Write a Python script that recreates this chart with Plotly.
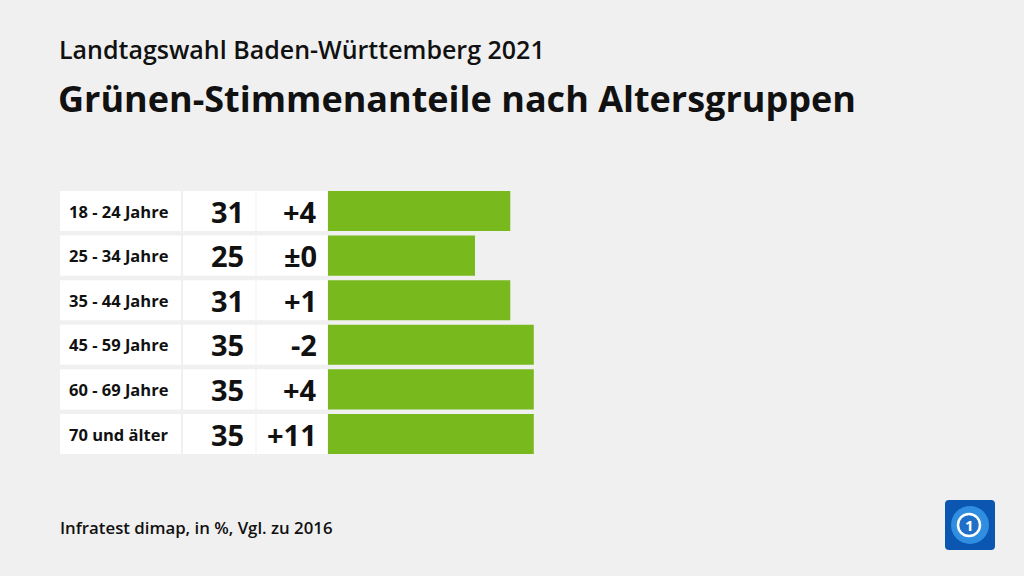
import plotly.graph_objects as go

# Data
groups = ["18 - 24 Jahre", "25 - 34 Jahre", "35 - 44 Jahre", "45 - 59 Jahre", "60 - 69 Jahre", "70 und älter"]
shares = [31, 25, 31, 35, 35, 35]
changes = ["+4", "±0", "+1", "-2", "+4", "+11"]

title = "Grünen-Stimmenanteile nach Altersgruppen"
subtitle = "Landtagswahl Baden-Württemberg 2021"
source = "Infratest dimap, in %, Vgl. zu 2016"

W, H = 1024, 576
BG = "#f0f0f0"
GREEN = "#78b91e"
FONT = "Open Sans"

def px(x):
    return x / W

def py(y):
    return 1 - y / H

bar_x0 = 328
scale = 5.88  # pixels per percentage point
y_top, y_bot = 188.7, 456.3

fig = go.Figure()
fig.add_trace(go.Bar(
    x=shares, y=groups, orientation="h",
    marker=dict(color=GREEN, line=dict(width=0)),
    width=0.9, hoverinfo="skip", showlegend=False,
))

shapes = []
annotations = []
for i, (g, v, c) in enumerate(zip(groups, shares, changes)):
    # white cells
    for x0, x1 in [(60, 181), (183, 255.5), (256.5, 327.5)]:
        shapes.append(dict(type="rect", xref="paper", yref="y",
                           x0=px(x0), x1=px(x1), y0=i - 0.45, y1=i + 0.45,
                           fillcolor="white", line=dict(width=0), layer="below"))
    annotations.append(dict(xref="paper", yref="y", x=px(67), y=g, text=g,
                            xanchor="left", yanchor="middle", showarrow=False,
                            font=dict(family=FONT, size=16.5, color="#111111", weight=700)))
    annotations.append(dict(xref="paper", yref="y", x=px(246), y=g, text=str(v),
                            xanchor="right", yanchor="middle", showarrow=False,
                            font=dict(family=FONT, size=29, color="#111111", weight=700)))
    annotations.append(dict(xref="paper", yref="y", x=px(319), y=g, text=c,
                            xanchor="right", yanchor="middle", showarrow=False,
                            font=dict(family=FONT, size=29, color="#111111", weight=700)))

annotations += [
    dict(xref="paper", yref="paper", x=px(57), y=py(68), text=subtitle,
         xanchor="left", yanchor="bottom", showarrow=False,
         font=dict(family=FONT, size=25, color="#111111", weight=600)),
    dict(xref="paper", yref="paper", x=px(56), y=py(125), text=title,
         xanchor="left", yanchor="bottom", showarrow=False,
         font=dict(family=FONT, size=36, color="#111111", weight=700)),
    dict(xref="paper", yref="paper", x=px(58), y=py(541), text=source,
         xanchor="left", yanchor="bottom", showarrow=False,
         font=dict(family=FONT, size=16.8, color="#111111", weight=600)),
]

# logo
shapes.append(dict(type="path", xref="paper", yref="paper",
                   path=("M {0},{1} L {2},{1} Q {3},{1} {3},{4} L {3},{5} Q {3},{6} {2},{6} "
                         "L {0},{6} Q {7},{6} {7},{5} L {7},{4} Q {7},{1} {0},{1} Z").format(
                       px(949), py(500), px(991), px(995), py(504), py(546), py(550), px(945)),
                   fillcolor="#0a56b0", line=dict(width=0)))
shapes.append(dict(type="circle", xref="paper", yref="paper",
                   x0=px(951), x1=px(989), y0=py(544), y1=py(506),
                   fillcolor="#2f8ee0", line=dict(width=0)))
shapes.append(dict(type="circle", xref="paper", yref="paper",
                   x0=px(958), x1=px(980), y0=py(536), y1=py(514),
                   fillcolor="#1f6fc8", line=dict(width=2.5, color="white")))
annotations.append(dict(xref="paper", yref="paper", x=px(969), y=py(525), text="1",
                        xanchor="center", yanchor="middle", showarrow=False,
                        font=dict(family=FONT, size=15, color="white", weight=700)))

fig.update_layout(
    width=W, height=H,
    margin=dict(l=0, r=0, t=0, b=0),
    paper_bgcolor=BG, plot_bgcolor=BG,
    shapes=shapes, annotations=annotations,
    xaxis=dict(domain=[px(bar_x0), 1], range=[0, (W - bar_x0) / scale],
               visible=False, fixedrange=True),
    yaxis=dict(domain=[py(y_bot), py(y_top)], range=[5.5, -0.5],
               categoryorder="array", categoryarray=groups,
               visible=False, fixedrange=True),
    bargap=0.1,
)

fig.write_html(
    "out.html",
    config={"displayModeBar": False},
    post_script="document.body.style.margin='0';document.body.style.background='#f0f0f0';",
)
